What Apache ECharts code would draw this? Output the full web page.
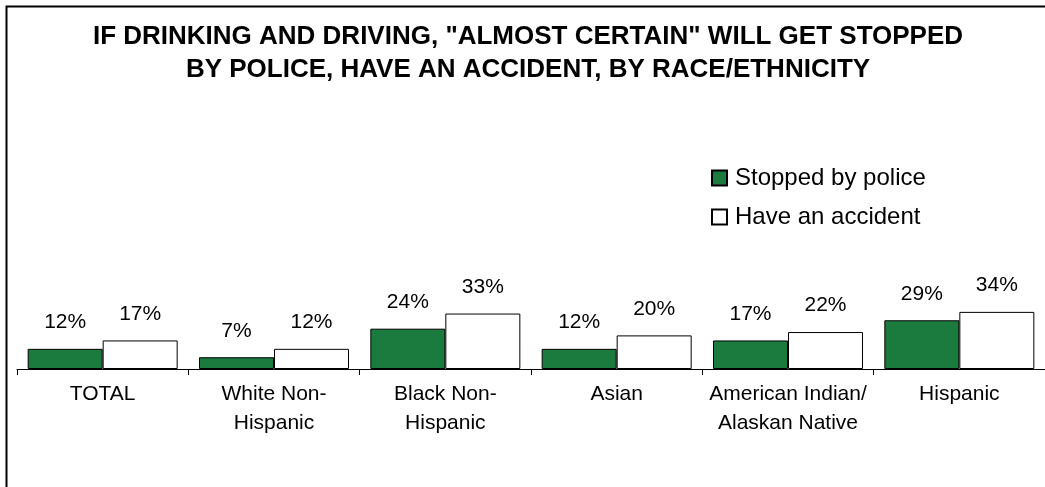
<!DOCTYPE html>
<html>
<head>
<meta charset="utf-8">
<script src="https://cdn.jsdelivr.net/npm/echarts@6/dist/echarts.min.js"></script>
<style>
html,body{margin:0;padding:0;background:#fff;}
#chart{width:1045px;height:487px;}
</style>
</head>
<body>
<div id="chart"></div>
<script>
const categories = ['TOTAL', 'White Non-\nHispanic', 'Black Non-\nHispanic', 'Asian', 'American Indian/\nAlaskan Native', 'Hispanic'];
const stoppedByPolice = [12, 7, 24, 12, 17, 29];
const haveAnAccident = [17, 12, 33, 20, 22, 34];
const seriesNames = ['Stopped by police', 'Have an accident'];
const titleText = 'IF DRINKING AND DRIVING, "ALMOST CERTAIN" WILL GET STOPPED\nBY POLICE, HAVE AN ACCIDENT, BY RACE/ETHNICITY';

const FONT = '"Liberation Sans", Arial, sans-serif';
const chart = echarts.init(document.getElementById('chart'), null, {renderer: 'canvas'});
const labelStyle = {
  show: true, position: 'top', distance: 16,
  formatter: '{c}%', color: '#000', fontSize: 21, fontFamily: FONT
};
chart.setOption({
  backgroundColor: '#fff',
  animation: false,
  graphic: [{
    type: 'rect', left: 4, top: 4, z: 100, silent: true,
    shape: {x: 0, y: 0, width: 1100, height: 600},
    style: {fill: 'none', stroke: '#000', lineWidth: 2}
  }],
  title: {
    text: titleText,
    left: 523, textAlign: 'center', top: 15,
    textStyle: {fontSize: 26, fontWeight: 'bold', fontFamily: FONT, color: '#000', lineHeight: 33}
  },
  legend: {
    orient: 'vertical', left: 706, top: 161,
    itemWidth: 15, itemHeight: 15, itemGap: 15, icon: 'rect',
    data: seriesNames,
    textStyle: {fontSize: 24, fontFamily: FONT, color: '#000', padding: [0, 0, 0, 3]}
  },
  grid: {left: 17, right: -1, top: 201, bottom: 118, containLabel: false},
  xAxis: {
    type: 'category', data: categories,
    axisLine: {lineStyle: {color: '#000', width: 1}},
    axisTick: {show: true, length: 6, lineStyle: {color: '#000'}},
    axisLabel: {fontSize: 21, fontFamily: FONT, color: '#000', lineHeight: 29, margin: 11, interval: 0}
  },
  yAxis: {type: 'value', min: 0, max: 100, show: false, splitLine: {show: false}},
  series: [{
    name: seriesNames[0], type: 'bar', data: stoppedByPolice,
    barWidth: 75, barGap: '0%',
    itemStyle: {color: '#1b7b3e', borderColor: '#000', borderWidth: 1},
    label: labelStyle
  }, {
    name: seriesNames[1], type: 'bar', data: haveAnAccident,
    barWidth: 75, barGap: '0%',
    itemStyle: {color: '#fff', borderColor: '#000', borderWidth: 1},
    label: labelStyle
  }]
});
</script>
</body>
</html>
